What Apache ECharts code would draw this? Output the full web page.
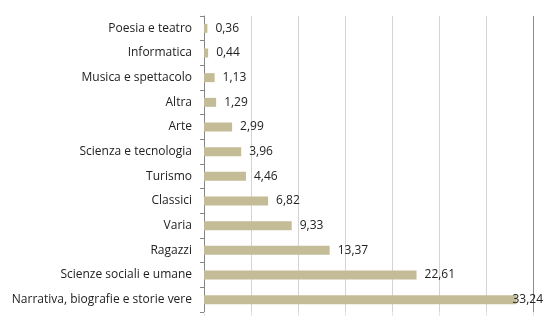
<!DOCTYPE html>
<html>
<head>
<meta charset="utf-8">
<script src="https://cdn.jsdelivr.net/npm/echarts@6/dist/echarts.min.js"></script>
<style>
  html, body { margin: 0; padding: 0; background: #fff; }
  #chart { width: 550px; height: 330px; }
</style>
</head>
<body>
<div id="chart"></div>
<script>
// Categories listed top to bottom
var categories = [
  'Poesia e teatro',
  'Informatica',
  'Musica e spettacolo',
  'Altra',
  'Arte',
  'Scienza e tecnologia',
  'Turismo',
  'Classici',
  'Varia',
  'Ragazzi',
  'Scienze sociali e umane',
  'Narrativa, biografie e storie vere'
];
var shares = [0.36, 0.44, 1.13, 1.29, 2.99, 3.96, 4.46, 6.82, 9.33, 13.37, 22.61, 33.24];

var maxVal = Math.max.apply(null, shares);
var seriesData = shares.map(function (v) {
  // the longest bar keeps its label pulled back inside the plot
  return v === maxVal ? { value: v, label: { offset: [-12, 0] } } : v;
});

var FONT = '"Open Sans", "Liberation Sans", Arial, sans-serif';
var chart = echarts.init(document.getElementById('chart'), null, { renderer: 'canvas' });
chart.setOption({
  animation: false,
  grid: { left: 204, right: 17, top: 16, bottom: 18, containLabel: false },
  xAxis: {
    type: 'value',
    min: 0,
    max: 35,
    interval: 5,
    axisLine: { show: false },
    axisTick: { show: true, length: 4, lineStyle: { color: '#e4e4e4' } },
    axisLabel: { show: false },
    splitLine: {
      show: true,
      lineStyle: {
        color: ['#d4d4d4', '#d4d4d4', '#d4d4d4', '#d4d4d4', '#d4d4d4', '#d4d4d4', '#d4d4d4', '#8c8c8c'],
        width: 1
      }
    }
  },
  yAxis: {
    type: 'category',
    data: categories,
    inverse: true,
    axisLine: { show: true, lineStyle: { color: '#868686', width: 1 } },
    axisTick: { show: true, length: 4, lineStyle: { color: '#868686' } },
    axisLabel: { color: '#222', fontSize: 12, fontFamily: FONT, margin: 12 }
  },
  series: [{
    type: 'bar',
    data: seriesData,
    barWidth: 9,
    itemStyle: { color: '#C4BC96' },
    label: {
      show: true,
      position: 'right',
      distance: 8,
      color: '#222',
      fontSize: 12,
      fontFamily: FONT,
      formatter: function (p) { return p.value.toFixed(2).replace('.', ','); }
    }
  }]
});
</script>
</body>
</html>
